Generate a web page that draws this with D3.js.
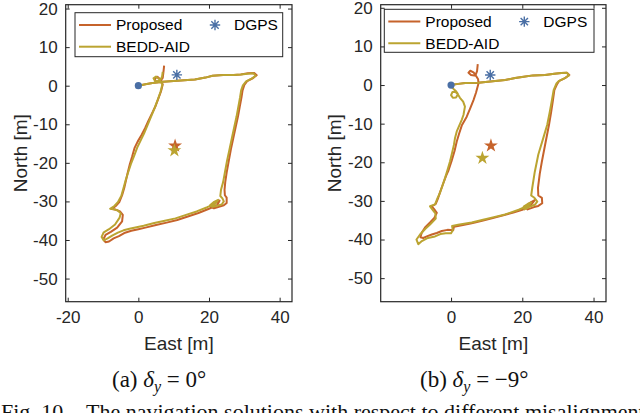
<!DOCTYPE html>
<html><head><meta charset="utf-8">
<script src="https://cdn.jsdelivr.net/npm/d3@7"></script>
<style>body{margin:0;background:#fff;} svg{display:block;}</style>
</head><body>
<svg id="chart" width="640" height="413"></svg>
<script>
// ---------- data ----------
const seriesNames = ["Proposed", "BEDD-AID", "DGPS"];
const xTicks = [-20, 0, 20, 40];
const yTicks = [-50, -40, -30, -20, -10, 0, 10, 20];
const xLabel = "East [m]";
const yLabel = "North [m]";
const panelLetters = ["(a)", "(b)"];
const panelAngles = ["0°", "−9°"];
const figCaptionHead = "Fig. 10.";
const figCaptionBody = "The navigation solutions with respect to different misalignment";

const startPoint = [0, 0];
const dgpsA = [10.9, 2.8];
const dgpsB = [11.0, 2.6];
const endA_proposed = [10.4, -15.6];
const endA_bedd = [10.2, -16.8];
const endB_proposed = [11.2, -15.7];
const endB_bedd = [8.8, -18.9];

const A_proposed = [[0,0],[2,0.4],[4,0.7],[7,1.0],[10,1.2],[13,1.4],[16,1.6],[19,2.1],[21,2.6],[24,2.8],[27,2.8],[29,2.9],[31,3.2],[32.8,3.3],[33.5,2.7],[32.5,2.0],[30.8,1.2],[30,0.2],[29.5,-1.2],[29.2,-3],[28.7,-5.5],[28.2,-8],[27.6,-10.5],[26.9,-13.5],[26.2,-16.5],[25.6,-19.5],[25.0,-22.5],[24.6,-25],[24.4,-27],[24.5,-28.4],[25.0,-29.0],[25.0,-30.4],[24.2,-31.0],[22.8,-31.4],[21.4,-31.8],[20.6,-31.4],[21.6,-30.5],[23.0,-29.8],[22.4,-30.9],[20.0,-31.9],[17,-33.0],[14,-33.9],[11,-34.8],[8,-35.5],[5,-36.1],[2,-36.8],[0,-37.2],[-2,-37.6],[-4,-38.2],[-5.5,-39.0],[-7,-39.6],[-8.3,-40.4],[-9.3,-40.6],[-9.9,-39.8],[-9.3,-38.7],[-7.8,-37.9],[-6,-36.8],[-4.6,-35.2],[-4.4,-33.5],[-5.2,-32.6],[-6.6,-32.1],[-7.6,-32.0],[-6.4,-31.2],[-5.4,-30.2],[-4.6,-28.4],[-4.0,-26.5],[-3.5,-24.5],[-3.0,-22.5],[-2.4,-20.3],[-1.8,-18.5],[-1.1,-16.2],[-0.2,-14.5],[0.9,-12.8],[1.9,-11],[2.8,-9.2],[3.8,-7.3],[4.8,-5.4],[5.6,-3.5],[6.4,-1.5],[6.9,0.3],[6.4,1.5],[5.4,2.3],[4.6,1.8],[5.0,1.0],[6.2,1.2],[6.9,2.0],[7.1,3.5],[7.3,5.2]];

const A_bedd = [[0,0],[2,0.4],[4,0.7],[7,1.0],[10,1.2],[13,1.4],[16,1.6],[19,2.1],[21,2.6],[24,2.8],[27,2.8],[29,2.9],[31,3.1],[32.6,3.2],[33.2,2.6],[32.2,1.9],[30.5,1.1],[29.6,0.1],[29.1,-1.2],[28.8,-3],[28.3,-5.5],[27.8,-8],[27.2,-10.5],[26.5,-13.5],[25.8,-16.5],[25.1,-19.5],[24.5,-22.5],[24.0,-25],[23.4,-27],[23.2,-28.6],[23.8,-29.2],[24.2,-30.0],[23.6,-30.8],[22.4,-31.1],[21.0,-31.4],[20.3,-31.0],[21.3,-30.2],[22.6,-29.6],[21.8,-30.6],[19.5,-31.5],[16.5,-32.6],[13.5,-33.5],[10.5,-34.4],[7.5,-35.0],[4.5,-35.6],[1.5,-36.3],[-0.5,-36.7],[-2.5,-37.1],[-4.2,-37.5],[-5.8,-38.1],[-7.3,-38.8],[-8.7,-39.6],[-9.8,-40.1],[-10.4,-39.2],[-9.8,-38.0],[-8.3,-37.2],[-6.6,-36.0],[-5.3,-34.2],[-5.0,-33.1],[-5.9,-32.3],[-7.2,-32.0],[-8.0,-31.9],[-6.8,-31.2],[-5.8,-30.2],[-4.8,-28.5],[-4.2,-26.5],[-3.6,-24.5],[-2.9,-22.5],[-2.1,-20.3],[-1.2,-18.2],[-0.3,-16],[0.6,-14.3],[1.6,-12.4],[2.6,-10.2],[3.6,-8],[4.6,-5.8],[5.5,-3.6],[6.3,-1.5],[6.8,0.3],[6.0,1.6],[5.0,2.4],[4.3,1.9],[4.8,1.1],[6.1,1.3],[6.7,2.3],[6.9,3.6]];

const B_proposed = [[0,0],[2,0.3],[4,0.5],[7.7,0.6],[11,0.9],[15.2,1.3],[18,1.8],[19.9,2.1],[23,2.5],[26.4,2.6],[29,2.9],[31,3.1],[32.5,3.2],[33.2,2.6],[32,1.8],[30.4,1.1],[29.8,0.3],[29.0,-1.3],[28.6,-4],[28.1,-7],[27.5,-10.3],[26.5,-15],[25.5,-19.8],[24.9,-23],[24.4,-26.6],[24.5,-28.6],[25.5,-29.2],[25.6,-30.6],[24.5,-31.3],[23.3,-31.6],[21.5,-32.2],[20.8,-31.6],[22.0,-30.6],[23.5,-29.8],[22.5,-31],[20,-32.3],[17.5,-33.0],[15.2,-33.6],[12,-34.4],[9,-35.1],[5.8,-35.8],[3,-36.3],[0.8,-36.7],[0.6,-37.6],[-1,-37.5],[-2.6,-37.8],[-4,-38.3],[-5.4,-38.7],[-6.8,-39.2],[-7.8,-39.6],[-8.6,-39.4],[-8.2,-38.2],[-7.3,-36.9],[-5.9,-35.6],[-4.7,-34.4],[-4.0,-33.1],[-4.7,-32.2],[-5.4,-31.4],[-4.3,-30.8],[-3.6,-29.2],[-3.1,-27.8],[-2.2,-25.5],[-1.4,-23.5],[-0.8,-22.3],[0.2,-19.5],[1.0,-17],[1.6,-14.6],[2.3,-12.5],[3.0,-10.5],[4.4,-8.2],[5.4,-6],[6.3,-3.9],[7.0,-2],[7.7,0.4],[7.6,1.5],[7.0,2.4],[5.6,2.6],[4.9,3.2],[5.4,3.7],[6.3,3.3],[6.9,2.6],[7.3,3.6],[7.5,5.4]];

const B_bedd = [[0,0],[2,0.3],[4,0.5],[7.7,0.6],[11,0.9],[15.2,1.3],[18,1.8],[19.9,2.1],[23,2.5],[26.4,2.6],[29,2.9],[31,3.1],[32.5,3.2],[33.1,2.5],[31.8,1.7],[30.2,1.0],[29.6,0.4],[28.8,-1.3],[28.3,-4],[27.7,-7],[27.0,-10.3],[25.8,-14],[24.5,-18],[23.5,-22.5],[22.8,-26.6],[22.5,-28.6],[23.4,-29.2],[24.2,-30.2],[23.5,-31.0],[21.8,-31.6],[20.6,-32.2],[20.4,-31.5],[21.5,-30.8],[22.5,-30.4],[21.5,-31.3],[19,-32.3],[15.2,-33.5],[12,-34.2],[9,-34.9],[5.8,-35.6],[2,-36.2],[0.3,-36.5],[0.5,-37.6],[0,-38.4],[-1.5,-38.4],[-3,-38.6],[-4.5,-39.2],[-6.5,-39.6],[-8.2,-40.4],[-9.2,-41.2],[-9.7,-40.0],[-8.7,-38.7],[-7.2,-37.2],[-5.9,-36.1],[-4.3,-34.6],[-4.4,-33.2],[-5.0,-32.5],[-5.9,-31.4],[-4.5,-30.9],[-3.8,-29.3],[-3.1,-27.9],[-2.4,-26],[-1.7,-24.1],[-1.0,-22],[-0.3,-19.8],[0.3,-17.5],[0.8,-15.5],[1.1,-13.8],[1.6,-12],[2.3,-10.5],[3.0,-9],[3.5,-7.7],[3.9,-5.6],[3.4,-4.3],[2.5,-3.3],[1.9,-2.4],[1.4,-3.2],[0.5,-3.3],[0.0,-2.6],[0.4,-1.8],[1.2,-1.8],[1.9,-2.3],[1.4,-1.6],[0.7,-1.0],[0.2,-0.5],[0,0]];

// ---------- styles ----------
const COL_PROP = "#c6632b";
const COL_BEDD = "#bba431";
const COL_BLUE = "#4a6fa5";
const AX_COL = "#262626";
const SANS = "'Liberation Sans', Arial, Helvetica, sans-serif";
const SERIF = "'Liberation Serif', 'Times New Roman', Times, serif";

const svg = d3.select("#chart");

const panels = [
  { frame: {x0: 65.7, x1: 292, y0: 4.7, y1: 301.7}, xDom: [-20.57, 43.5], yDom: [-56.0, 21.0],
    legend: {x: 75, y: 12.7, w: 207.7, h: 44}, prop: A_proposed, bedd: A_bedd, dgps: dgpsA,
    endP: endA_proposed, endB: endA_bedd, capX: 112, ylabX: 27, letter: panelLetters[0], angle: panelAngles[0] },
  { frame: {x0: 380.7, x1: 606, y0: 4.7, y1: 301.7}, xDom: [-19.75, 43.5], yDom: [-56.1, 20.8],
    legend: {x: 384.3, y: 9.3, w: 209.7, h: 43}, prop: B_proposed, bedd: B_bedd, dgps: dgpsB,
    endP: endB_proposed, endB: endB_bedd, capX: 420, ylabX: 341, letter: panelLetters[1], angle: panelAngles[1] }
];

function asteriskPath(r) {
  const d = r * Math.SQRT1_2;
  return `M${-r},0L${r},0M0,${-r}L0,${r}M${-d},${-d}L${d},${d}M${-d},${d}L${d},${-d}`;
}

panels.forEach((p, i) => {
  const f = p.frame;
  const x = d3.scaleLinear().domain(p.xDom).range([f.x0, f.x1]);
  const y = d3.scaleLinear().domain(p.yDom).range([f.y1, f.y0]);
  const g = svg.append("g");

  const clipId = "clip" + i;
  g.append("clipPath").attr("id", clipId).append("rect")
    .attr("x", f.x0).attr("y", f.y0).attr("width", f.x1 - f.x0).attr("height", f.y1 - f.y0);

  const tl = 4;
  const xt = xTicks.filter(v => v >= p.xDom[0] && v <= p.xDom[1]);
  const yt = yTicks.filter(v => v >= p.yDom[0] && v <= p.yDom[1]);
  const bottom = g.append("g").attr("transform", `translate(0,${f.y1})`)
    .call(d3.axisBottom(x).tickValues(xt).tickSizeInner(-tl).tickSizeOuter(0).tickPadding(9));
  const top = g.append("g").attr("transform", `translate(0,${f.y0})`)
    .call(d3.axisTop(x).tickValues(xt).tickSizeInner(-tl).tickSizeOuter(0).tickFormat(""));
  const left = g.append("g").attr("transform", `translate(${f.x0},0)`)
    .call(d3.axisLeft(y).tickValues(yt).tickSizeInner(-tl).tickSizeOuter(0).tickPadding(8));
  const right = g.append("g").attr("transform", `translate(${f.x1},0)`)
    .call(d3.axisRight(y).tickValues(yt).tickSizeInner(-tl).tickSizeOuter(0).tickFormat(""));
  [bottom, top, left, right].forEach(a => {
    a.select(".domain").remove();
    a.selectAll("line").attr("stroke", AX_COL).attr("stroke-width", 1);
    a.selectAll("text").attr("fill", AX_COL).style("font-family", SANS).style("font-size", "17px");
  });
  bottom.selectAll("text").text(d => d < 0 ? "-" + Math.abs(d) : d);
  left.selectAll("text").text(d => d < 0 ? "-" + Math.abs(d) : d);

  g.append("rect").attr("x", f.x0).attr("y", f.y0).attr("width", f.x1 - f.x0).attr("height", f.y1 - f.y0)
    .attr("fill", "none").attr("stroke", AX_COL).attr("stroke-width", 1.2);

  g.append("text").attr("x", (f.x0 + f.x1) / 2).attr("y", 350).attr("text-anchor", "middle")
    .attr("fill", AX_COL).style("font-family", SANS).style("font-size", "19px").text(xLabel);
  g.append("text").attr("transform", `translate(${p.ylabX},${(f.y0 + f.y1) / 2}) rotate(-90)`)
    .attr("text-anchor", "middle").attr("fill", AX_COL).style("font-family", SANS).style("font-size", "19px").text(yLabel);

  const line = d3.line().x(d => x(d[0])).y(d => y(d[1])).curve(d3.curveLinear);
  const plot = g.append("g").attr("clip-path", `url(#${clipId})`);
  plot.append("path").datum(p.prop).attr("d", line).attr("fill", "none")
    .attr("stroke", COL_PROP).attr("stroke-width", 2).attr("stroke-linejoin", "round");
  plot.append("path").datum(p.bedd).attr("d", line).attr("fill", "none")
    .attr("stroke", COL_BEDD).attr("stroke-width", 2).attr("stroke-linejoin", "round");

  plot.append("circle").attr("cx", x(startPoint[0])).attr("cy", y(startPoint[1])).attr("r", 3.6).attr("fill", COL_BLUE);
  plot.append("path").attr("d", asteriskPath(5.2)).attr("transform", `translate(${x(p.dgps[0])},${y(p.dgps[1])})`)
    .attr("stroke", COL_BLUE).attr("stroke-width", 1.4).attr("fill", "none");
  const star = d3.symbol().type(d3.symbolStar).size(60);
  plot.append("path").attr("d", star()).attr("transform", `translate(${x(p.endP[0])},${y(p.endP[1])})`).attr("fill", COL_PROP);
  plot.append("path").attr("d", star()).attr("transform", `translate(${x(p.endB[0])},${y(p.endB[1])})`).attr("fill", COL_BEDD);

  const L = p.legend;
  const lg = g.append("g");
  lg.append("rect").attr("x", L.x).attr("y", L.y).attr("width", L.w).attr("height", L.h)
    .attr("fill", "#fff").attr("stroke", AX_COL).attr("stroke-width", 1);
  const rows = [{name: seriesNames[0], col: COL_PROP, dy: 12.3}, {name: seriesNames[1], col: COL_BEDD, dy: 34}];
  rows.forEach(r => {
    lg.append("line").attr("x1", L.x + 4).attr("x2", L.x + 36).attr("y1", L.y + r.dy).attr("y2", L.y + r.dy)
      .attr("stroke", r.col).attr("stroke-width", 2);
    lg.append("text").attr("x", L.x + 41).attr("y", L.y + r.dy).attr("dy", "0.35em")
      .attr("fill", "#000").style("font-family", SANS).style("font-size", "15.5px").text(r.name);
  });
  lg.append("path").attr("d", asteriskPath(5.2)).attr("transform", `translate(${L.x + 140},${L.y + 12.3})`)
    .attr("stroke", COL_BLUE).attr("stroke-width", 1.4).attr("fill", "none");
  lg.append("text").attr("x", L.x + 159).attr("y", L.y + 12.3).attr("dy", "0.35em")
    .attr("fill", "#000").style("font-family", SANS).style("font-size", "15.5px").text(seriesNames[2]);

  const cap = svg.append("text").attr("x", p.capX).attr("y", 387).attr("fill", "#111")
    .style("font-family", SERIF).style("font-size", "23px");
  cap.append("tspan").text(p.letter + " ");
  cap.append("tspan").style("font-style", "italic").text("δ");
  cap.append("tspan").attr("dy", 5).style("font-style", "italic").style("font-size", "16px").text("y");
  cap.append("tspan").attr("dy", -5).text(" = " + p.angle);
});

svg.append("text").attr("x", 1).attr("y", 419).attr("fill", "#111")
  .style("font-family", SERIF).style("font-size", "22px").text(figCaptionHead);
svg.append("text").attr("x", 86).attr("y", 419).attr("fill", "#111")
  .style("font-family", SERIF).style("font-size", "22px").text(figCaptionBody);
</script>
</body></html>
